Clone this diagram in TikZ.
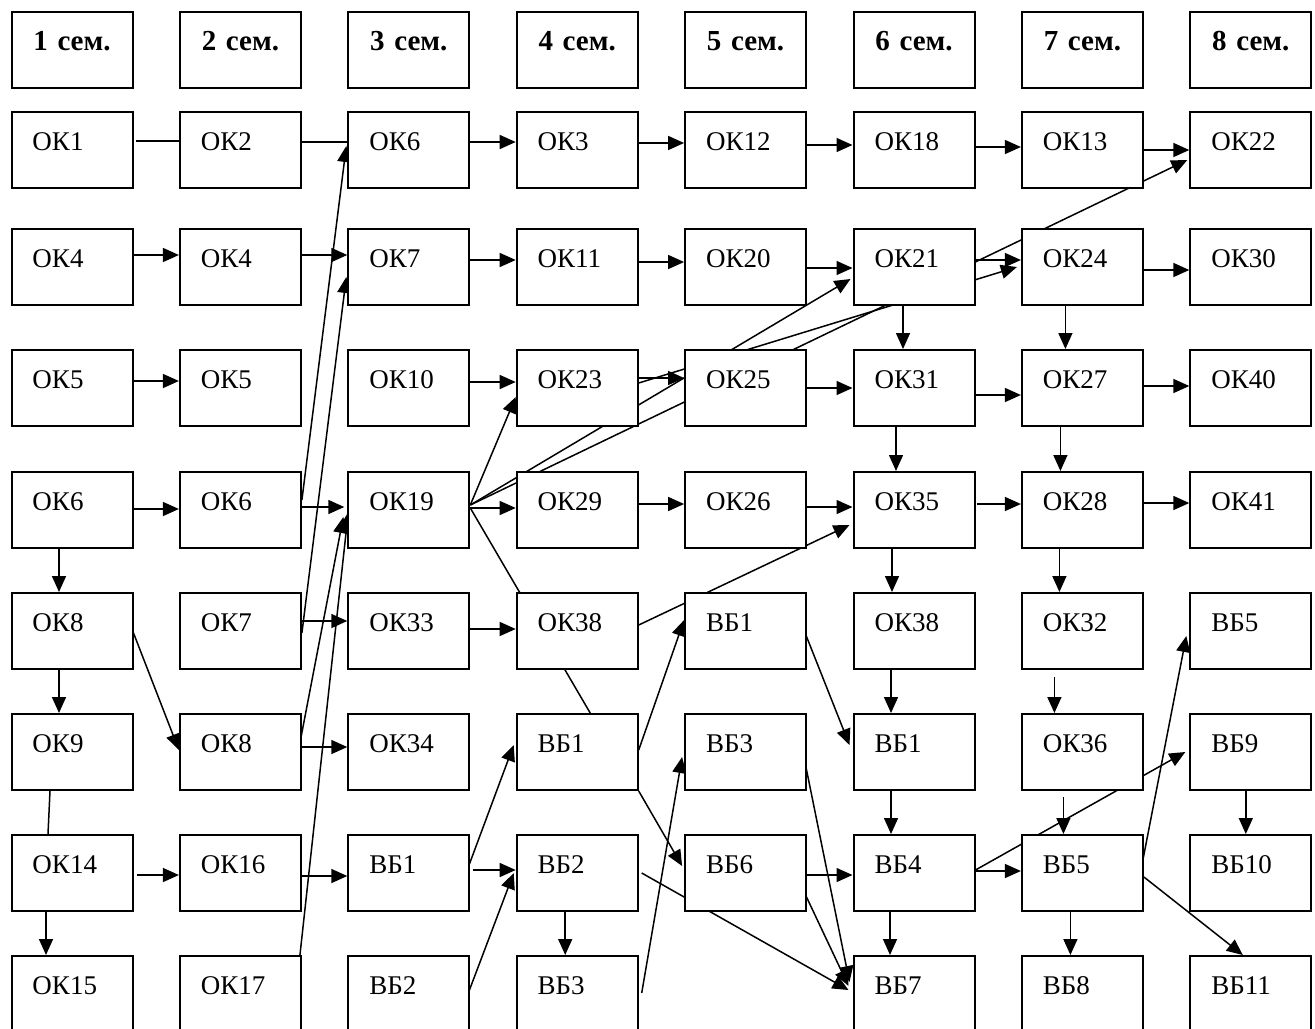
\documentclass[tikz,border=0pt]{standalone}
\usepackage{fontspec}
\setmainfont{Liberation Serif}
\usetikzlibrary{arrows.meta,calc,backgrounds}

\newcommand{\boxfont}{\fontsize{13.5}{16}\selectfont}

\begin{document}
\begin{tikzpicture}[x=0.5pt, y=-0.5pt,
    box/.style={draw, line width=1pt, fill=white, rectangle,
        minimum width=60.5pt, minimum height=38pt,
        inner xsep=10.5pt, inner ysep=0pt, text width=39.5pt, align=left,
        text height=9pt, text depth=9pt, font=\boxfont},
    semhead/.style={box, align=center, font=\fontsize{14.5}{17}\selectfont\bfseries},
    conn/.style={line width=0.75pt, -{Triangle[length=8pt, width=7pt]}},
    link/.style={line width=0.75pt}]

\useasboundingbox (0,0) rectangle (1315,1028);

% semester headers
\foreach \s in {1,...,8}
    \node[semhead] (sem\s) at ({72+168.4*(\s-1)},50) {\s\ сем.};

% semester 1
\node[box] (s1ok1)  at (72,150) {ОК1};
\node[box] (s1ok4)  at (72,267) {ОК4};
\node[box] (s1ok5)  at (72,388) {ОК5};
\node[box] (s1ok6)  at (72,510) {ОК6};
\node[box] (s1ok8)  at (72,631) {ОК8};
\node[box] (s1ok9)  at (72,752) {ОК9};
\node[box] (s1ok14) at (72,873) {ОК14};
\node[box] (s1ok15) at (72,994) {ОК15};

% semester 2
\node[box] (s2ok2)  at (240.4,150) {ОК2};
\node[box] (s2ok4)  at (240.4,267) {ОК4};
\node[box] (s2ok5)  at (240.4,388) {ОК5};
\node[box] (s2ok6)  at (240.4,510) {ОК6};
\node[box] (s2ok7)  at (240.4,631) {ОК7};
\node[box] (s2ok8)  at (240.4,752) {ОК8};
\node[box] (s2ok16) at (240.4,873) {ОК16};
\node[box] (s2ok17) at (240.4,994) {ОК17};

% semester 3
\node[box] (s3ok6)  at (408.8,150) {ОК6};
\node[box] (s3ok7)  at (408.8,267) {ОК7};
\node[box] (s3ok10) at (408.8,388) {ОК10};
\node[box] (s3ok19) at (408.8,510) {ОК19};
\node[box] (s3ok33) at (408.8,631) {ОК33};
\node[box] (s3ok34) at (408.8,752) {ОК34};
\node[box] (s3vb1)  at (408.8,873) {ВБ1};
\node[box] (s3vb2)  at (408.8,994) {ВБ2};

% semester 4
\node[box] (s4ok3)  at (577.2,150) {ОК3};
\node[box] (s4ok11) at (577.2,267) {ОК11};
\node[box] (s4ok23) at (577.2,388) {ОК23};
\node[box] (s4ok29) at (577.2,510) {ОК29};
\node[box] (s4ok38) at (577.2,631) {ОК38};
\node[box] (s4vb1)  at (577.2,752) {ВБ1};
\node[box] (s4vb2)  at (577.2,873) {ВБ2};
\node[box] (s4vb3)  at (577.2,994) {ВБ3};

% semester 5
\node[box] (s5ok12) at (745.6,150) {ОК12};
\node[box] (s5ok20) at (745.6,267) {ОК20};
\node[box] (s5ok25) at (745.6,388) {ОК25};
\node[box] (s5ok26) at (745.6,510) {ОК26};
\node[box] (s5vb1)  at (745.6,631) {ВБ1};
\node[box] (s5vb3)  at (745.6,752) {ВБ3};
\node[box] (s5vb6)  at (745.6,873) {ВБ6};

% semester 6
\node[box] (s6ok18) at (914,150) {ОК18};
\node[box] (s6ok21) at (914,267) {ОК21};
\node[box] (s6ok31) at (914,388) {ОК31};
\node[box] (s6ok35) at (914,510) {ОК35};
\node[box] (s6ok38) at (914,631) {ОК38};
\node[box] (s6vb1)  at (914,752) {ВБ1};
\node[box] (s6vb4)  at (914,873) {ВБ4};
\node[box] (s6vb7)  at (914,994) {ВБ7};

% semester 7
\node[box] (s7ok13) at (1082.4,150) {ОК13};
\node[box] (s7ok24) at (1082.4,267) {ОК24};
\node[box] (s7ok27) at (1082.4,388) {ОК27};
\node[box] (s7ok28) at (1082.4,510) {ОК28};
\node[box] (s7ok32) at (1082.4,631) {ОК32};
\node[box] (s7ok36) at (1082.4,752) {ОК36};
\node[box] (s7vb5)  at (1082.4,873) {ВБ5};
\node[box] (s7vb8)  at (1082.4,994) {ВБ8};

% semester 8
\node[box] (s8ok22) at (1250.8,150) {ОК22};
\node[box] (s8ok30) at (1250.8,267) {ОК30};
\node[box] (s8ok40) at (1250.8,388) {ОК40};
\node[box] (s8ok41) at (1250.8,510) {ОК41};
\node[box] (s8vb5)  at (1250.8,631) {ВБ5};
\node[box] (s8vb9)  at (1250.8,752) {ВБ9};
\node[box] (s8vb10) at (1250.8,873) {ВБ10};
\node[box] (s8vb11) at (1250.8,994) {ВБ11};

\begin{pgfonlayer}{background}
\fill[white] (0,0) rectangle (1315,1028);

% draw row arrows
\draw[link] ($(s1ok1.east)+(2,-9)$) -- ($(s2ok2.west)+(0,-9)$);
\draw[link] ($(s2ok2.east)+(0,-8)$) -- ($(s3ok6.west)+(0,-8)$);
\draw[conn] ($(s3ok6.east)+(0,-8)$) -- ($(s4ok3.west)+(0,-8)$);
\draw[conn] ($(s4ok3.east)+(0,-7)$) -- ($(s5ok12.west)+(0,-7)$);
\draw[conn] ($(s5ok12.east)+(0,-5)$) -- ($(s6ok18.west)+(0,-5)$);
\draw[conn] ($(s6ok18.east)+(0,-3)$) -- ($(s7ok13.west)+(0,-3)$);
\draw[conn] ($(s7ok13.east)+(0,0)$) -- ($(s8ok22.west)+(0,0)$);

\draw[conn] ($(s1ok4.east)+(0,-12)$) -- ($(s2ok4.west)+(0,-12)$);
\draw[conn] ($(s2ok4.east)+(0,-12)$) -- ($(s3ok7.west)+(0,-12)$);
\draw[conn] ($(s3ok7.east)+(0,-7)$) -- ($(s4ok11.west)+(0,-7)$);
\draw[conn] ($(s4ok11.east)+(0,-5)$) -- ($(s5ok20.west)+(0,-5)$);
\draw[conn] ($(s5ok20.east)+(0,1)$) -- ($(s6ok21.west)+(0,1)$);
\draw[conn] ($(s6ok21.east)+(0,-7)$) -- ($(s7ok24.west)+(0,-7)$);
\draw[conn] ($(s7ok24.east)+(0,3)$) -- ($(s8ok30.west)+(0,3)$);

\draw[conn] ($(s1ok5.east)+(0,-7)$) -- ($(s2ok5.west)+(0,-7)$);
\draw[conn] ($(s3ok10.east)+(0,-6)$) -- ($(s4ok23.west)+(0,-6)$);
\draw[conn] ($(s4ok23.east)+(0,-10)$) -- ($(s5ok25.west)+(0,-10)$);
\draw[conn] ($(s5ok25.east)+(0,0)$) -- ($(s6ok31.west)+(0,0)$);
\draw[conn] ($(s6ok31.east)+(0,7)$) -- ($(s7ok27.west)+(0,7)$);
\draw[conn] ($(s7ok27.east)+(0,-2)$) -- ($(s8ok40.west)+(0,-2)$);

\draw[conn] ($(s1ok6.east)+(0,-1)$) -- ($(s2ok6.west)+(0,-1)$);
\draw[conn] ($(s2ok6.east)+(0,-3)$) -- ($(s3ok19.west)+(-3,-3)$);
\draw[conn] ($(s3ok19.east)+(0,-2)$) -- ($(s4ok29.west)+(0,-2)$);
\draw[conn] ($(s4ok29.east)+(0,-6)$) -- ($(s5ok26.west)+(0,-6)$);
\draw[conn] ($(s5ok26.east)+(0,-3)$) -- ($(s6ok35.west)+(0,-3)$);
\draw[conn] ($(s6ok35.east)+(1,-6)$) -- ($(s7ok28.west)+(0,-6)$);
\draw[conn] ($(s7ok28.east)+(0,-7)$) -- ($(s8ok41.west)+(0,-7)$);

\draw[conn] ($(s2ok7.east)+(0,-10)$) -- ($(s3ok33.west)+(0,-10)$);
\draw[conn] ($(s3ok33.east)+(0,-2)$) -- ($(s4ok38.west)+(0,-2)$);
\draw[conn] ($(s2ok8.east)+(0,-5)$) -- ($(s3ok34.west)+(0,-5)$);

\draw[conn] ($(s1ok14.east)+(3,2)$) -- ($(s2ok16.west)+(0,2)$);
\draw[conn] ($(s2ok16.east)+(0,3)$) -- ($(s3vb1.west)+(0,3)$);
\draw[conn] ($(s3vb1.east)+(3,-3)$) -- ($(s4vb2.west)+(0,-3)$);
\draw[conn] ($(s5vb6.east)+(0,2)$) -- ($(s6vb4.west)+(0,2)$);
\draw[conn] ($(s6vb4.east)+(0,-2)$) -- ($(s7vb5.west)+(0,-2)$);

% draw column arrows
\draw[conn] ($(s1ok6.south)+(-13,0)$) -- ($(s1ok8.north)+(-13,0)$);
\draw[conn] ($(s1ok8.south)+(-13,0)$) -- ($(s1ok9.north)+(-13,0)$);
\draw[link] ($(s1ok9.south)+(-22,0)$) -- ($(s1ok14.north)+(-24,0)$);
\draw[conn] ($(s1ok14.south)+(-26,0)$) -- ($(s1ok15.north)+(-26,0)$);
\draw[conn] ($(s4vb2.south)+(-12,0)$) -- ($(s4vb3.north)+(-12,0)$);
\draw[conn] ($(s6ok21.south)+(-11,0)$) -- ($(s6ok31.north)+(-11,0)$);
\draw[conn] ($(s6ok31.south)+(-18,0)$) -- ($(s6ok35.north)+(-18,0)$);
\draw[conn] ($(s6ok35.south)+(-22,0)$) -- ($(s6ok38.north)+(-22,0)$);
\draw[conn] ($(s6ok38.south)+(-23,0)$) -- ($(s6vb1.north)+(-23,0)$);
\draw[conn] ($(s6vb1.south)+(-23,0)$) -- ($(s6vb4.north)+(-23,0)$);
\draw[conn] ($(s6vb4.south)+(-24,0)$) -- ($(s6vb7.north)+(-24,0)$);
\draw[conn] ($(s7ok24.south)+(-17,0)$) -- ($(s7ok27.north)+(-17,0)$);
\draw[conn] ($(s7ok27.south)+(-22,0)$) -- ($(s7ok28.north)+(-22,0)$);
\draw[conn] ($(s7ok28.south)+(-23,0)$) -- ($(s7ok32.north)+(-23,0)$);
\draw[conn] ($(s7ok32.south)+(-28,7)$) -- ($(s7ok36.north)+(-28,0)$);
\draw[conn] ($(s7ok36.south)+(-19,6)$) -- ($(s7vb5.north)+(-19,0)$);
\draw[conn] ($(s7vb5.south)+(-12,0)$) -- ($(s7vb8.north)+(-12,0)$);
\draw[conn] ($(s8vb9.south)+(-5,0)$) -- ($(s8vb10.north)+(-5,0)$);

% draw cross links
\draw[conn] ($(s2ok6.east)+(0,-10)$) -- ($(s3ok6.west)+(-1,-4)$);
\draw[conn] ($(s2ok7.east)+(0,2)$) -- ($(s3ok7.west)+(-1,10)$);
\draw[conn] ($(s2ok8.east)+(-2,-9)$) -- ($(s3ok19.west)+(-4,7)$);
\draw[conn] ($(s2ok17.east)+(-5,-11)$) -- ($(s3ok19.west)+(1,2)$);
\draw[conn] ($(s1ok8.east)+(0,2)$) -- ($(s2ok8.west)+(0,-2)$);
\draw[conn] ($(s3ok19.east)+(0,-5)$) -- ($(s4ok23.west)+(0,9)$);
\draw[conn] ($(s3ok19.east)+(0,-5)$) -- ($(s6ok21.west)+(-2,12)$);
\draw[conn] ($(s3ok19.east)+(0,-5)$) -- ($(s8ok22.west)+(-2,10)$);
\draw[link] ($(s3ok19.east)+(0,-2)$) -- ($(s4vb1.north)+(13,0)$);
\draw[conn] ($(s4ok23.east)+(0,-5)$) -- ($(s7ok24.west)+(-4,0)$);
\draw[conn] ($(s4ok38.east)+(0,-6)$) -- ($(s6ok35.west)+(-3,15)$);
\draw[conn] ($(s4vb1.east)+(0,-2)$) -- ($(s5vb1.west)+(0,-11)$);
\draw[conn] (s4vb1.south east) -- ($(s5vb6.west)+(-2,-7)$);
\draw[conn] ($(s4vb2.east)+(3,0)$) -- ($(s6vb7.west)+(-4,-4)$);
\draw[conn] ($(s5vb3.east)+(-5,-4)$) -- ($(s6vb7.west)+(-3,-12)$);
\draw[conn] ($(s5vb6.east)+(-11,2)$) -- ($(s6vb7.west)+(-4,-8)$);
\draw[conn] ($(s4vb3.east)+(3,-1)$) -- ($(s5vb3.west)+(-2,5)$);
\draw[conn] ($(s3vb2.east)+(-2,-1)$) -- ($(s4vb2.west)+(-2,0)$);
\draw[conn] ($(s3vb1.east)+(-2,-6)$) -- ($(s4vb1.west)+(-2,-7)$);
\draw[conn] ($(s5vb1.east)+(-2,2)$) -- ($(s6vb1.west)+(-3,-7)$);
\draw[conn] ($(s6vb4.east)+(0,-3)$) -- ($(s8vb9.west)+(-4,0)$);
\draw[conn] ($(s7vb5.east)+(-2,-8)$) -- ($(s8vb5.west)+(-3,5)$);
\draw[conn] ($(s7vb5.east)+(0,4)$) -- ($(s8vb11.north)+(-8,0)$);
\end{pgfonlayer}

\end{tikzpicture}
\end{document}
